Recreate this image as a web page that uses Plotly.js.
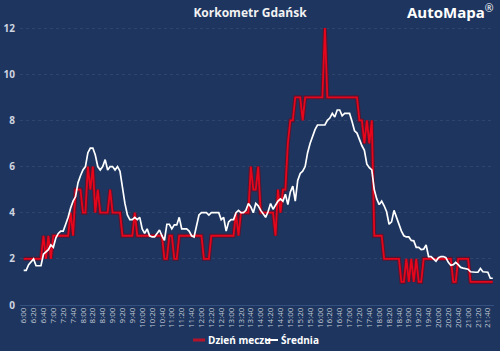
<!DOCTYPE html>
<html>
<head>
<meta charset="utf-8">
<script src="https://cdn.plot.ly/plotly-3.0.1.min.js"></script>
<style>html,body{margin:0;padding:0;background:#1e365f;}#chart{width:500px;height:351px;}</style>
</head>
<body>
<div id="chart"></div>
<script>
const times = ["6:00","6:05","6:10","6:15","6:20","6:25","6:30","6:35","6:40","6:45","6:50","6:55",
"7:00","7:05","7:10","7:15","7:20","7:25","7:30","7:35","7:40","7:45","7:50","7:55",
"8:00","8:05","8:10","8:15","8:20","8:25","8:30","8:35","8:40","8:45","8:50","8:55",
"9:00","9:05","9:10","9:15","9:20","9:25","9:30","9:35","9:40","9:45","9:50","9:55",
"10:00","10:05","10:10","10:15","10:20","10:25","10:30","10:35","10:40","10:45","10:50","10:55",
"11:00","11:05","11:10","11:15","11:20","11:25","11:30","11:35","11:40","11:45","11:50","11:55",
"12:00","12:05","12:10","12:15","12:20","12:25","12:30","12:35","12:40","12:45","12:50","12:55",
"13:00","13:05","13:10","13:15","13:20","13:25","13:30","13:35","13:40","13:45","13:50","13:55",
"14:00","14:05","14:10","14:15","14:20","14:25","14:30","14:35","14:40","14:45","14:50","14:55",
"15:00","15:05","15:10","15:15","15:20","15:25","15:30","15:35","15:40","15:45","15:50","15:55",
"16:00","16:05","16:10","16:15","16:20","16:25","16:30","16:35","16:40","16:45","16:50","16:55",
"17:00","17:05","17:10","17:15","17:20","17:25","17:30","17:35","17:40","17:45","17:50","17:55",
"18:00","18:05","18:10","18:15","18:20","18:25","18:30","18:35","18:40","18:45","18:50","18:55",
"19:00","19:05","19:10","19:15","19:20","19:25","19:30","19:35","19:40","19:45","19:50","19:55",
"20:00","20:05","20:10","20:15","20:20","20:25","20:30","20:35","20:40","20:45","20:50","20:55",
"21:00","21:05","21:10","21:15","21:20","21:25","21:30","21:35","21:40","21:45","21:50"];

const tickLabels = ["6:00","6:20","6:40","7:00","7:20","7:40","8:00","8:20","8:40","9:00","9:20","9:40",
"10:00","10:20","10:40","11:00","11:20","11:40","12:00","12:20","12:40","13:00","13:20","13:40",
"14:00","14:20","14:40","15:00","15:20","15:40","16:00","16:20","16:40","17:00","17:20","17:40",
"18:00","18:20","18:40","19:00","19:20","19:40","20:00","20:20","20:40","21:00","21:20","21:40"];

const dzienMeczu = [2,2,2,2,2,2,2,2,
3,2,3,2,
3,3,3,3,3,3,3,
4,3,5,5,5,4,4,
6,5,6,4,5,
4,4,4,4,
5,
4,4,4,4,
3,3,3,3,3,
4,
3,3,3,3,3,3,3,3,3,3,3,
2,2,
3,3,
2,2,
3,3,3,3,3,3,3,3,3,3,
2,2,2,
3,3,3,3,3,3,3,3,3,3,
4,3,4,4,4,4,
6,5,5,6,
4,4,4,4,4,4,
3,5,4,5,5,7,8,8,
9,9,9,8,
9,9,9,9,9,9,9,9,
12,
9,9,9,9,9,9,9,9,9,9,9,9,9,
8,8,7,8,7,8,
3,3,3,3,
2,2,2,2,2,2,2,
1,1,2,1,2,1,2,1,1,
2,2,2,2,2,2,2,2,2,2,2,2,
1,1,
2,2,2,2,2,
1,1,1,1,1,1,1,1,1,1];

const srednia = [1.5,1.5,1.75,1.9,2.0,1.7,1.7,1.7,2.2,2.3,2.4,2.6,2.5,2.9,3.1,3.2,3.2,3.5,3.8,4.2,
4.5,4.7,5.3,5.6,5.85,6.0,6.6,6.8,6.8,6.5,6.0,5.85,6.0,6.3,5.85,6.0,6.0,5.85,6.0,5.8,
5.0,4.4,3.9,3.7,3.7,3.8,3.7,3.8,3.3,3.1,3.3,3.0,2.95,2.95,3.1,3.25,3.0,2.8,3.5,3.5,
3.3,3.47,3.47,3.8,3.3,3.3,3.3,3.2,3.0,2.95,3.45,3.9,4.0,4.0,4.0,3.9,4.0,4.0,4.0,4.0,
3.7,3.8,3.2,3.6,3.7,3.7,4.0,4.1,4.0,4.0,4.1,4.4,4.25,4.0,4.4,4.3,4.1,3.95,3.8,4.05,
4.4,4.15,4.35,4.5,4.6,4.5,4.8,4.35,4.9,5.15,4.5,5.4,5.7,5.8,6.0,6.6,7.0,7.3,7.6,7.8,
7.8,7.8,7.8,8.0,8.1,8.3,8.15,8.45,8.45,8.2,8.3,8.3,8.3,7.95,7.55,7.45,7.15,6.9,6.7,6.1,
5.95,5.85,5.0,4.6,4.35,4.5,4.3,4.04,3.5,3.6,4.1,3.8,3.5,3.2,3.0,2.95,2.95,2.8,2.78,2.5,
2.5,2.4,2.42,2.6,2.1,2.1,2.0,1.9,2.05,2.1,2.1,2.05,1.85,1.72,1.75,1.85,1.75,1.63,1.6,1.58,
1.55,1.44,1.42,1.42,1.42,1.58,1.44,1.42,1.42,1.16,1.16];

const seriesNames = ["Dzień meczu", "Średnia"];
const yTicks = [0,2,4,6,8,10,12];

const BG = "#1e365f";
const FONT = "'Open Sans', 'DejaVu Sans', sans-serif";

const traces = [
  {x: times, y: dzienMeczu, type: "scatter", mode: "lines", name: seriesNames[0],
   line: {color: "rgba(120,0,20,0.6)", width: 4}, showlegend: false, hoverinfo: "skip"},
  {x: times, y: dzienMeczu, type: "scatter", mode: "lines", name: seriesNames[0],
   line: {color: "#e6061c", width: 1.8}, showlegend: false},
  {x: times, y: srednia, type: "scatter", mode: "lines", name: seriesNames[1],
   line: {color: "#ffffff", width: 1.7}, showlegend: false}
];

const plotL = 20, plotW = 474, plotB = 305, plotH = 279;
const px = v => (v - plotL) / plotW;
const py = v => (plotB - v) / plotH;

const layout = {
  width: 500, height: 351,
  paper_bgcolor: BG, plot_bgcolor: BG,
  margin: {l: 20, r: 6, t: 26, b: 46, pad: 0},
  font: {family: FONT, color: "#d5d9e4"},
  title: {text: "<b>Korkometr Gdańsk</b>", font: {family: FONT, size: 12, color: "#f2f2f2"},
          x: 0.5, xanchor: "center", y: 1 - 12.5/351, yanchor: "middle", yref: "container"},
  showlegend: false,
  xaxis: {type: "category", range: [-1.5, 190.5], tickmode: "array", tickvals: tickLabels, ticktext: tickLabels,
          tickangle: -90, tickfont: {family: FONT, size: 8, color: "#c3c9d6"}, showgrid: false,
          zeroline: false, showline: false, ticks: "", fixedrange: true},
  yaxis: {range: [0, 12.09], tickmode: "array", tickvals: yTicks, ticktext: yTicks.map(String),
          tickfont: {family: FONT, size: 10, color: "#cfd4e0", weight: "bold"},
          showgrid: true, gridcolor: "rgba(255,255,255,0.08)", griddash: "dot", gridwidth: 1,
          zeroline: true, zerolinecolor: "#34507f", zerolinewidth: 1, showline: false, ticks: "",
          ticklabelstandoff: 4},
  shapes: [
    {type: "line", xref: "paper", yref: "paper", x0: px(193), x1: px(205), y0: py(340), y1: py(340),
     line: {color: "#b3142c", width: 3}},
    {type: "line", xref: "paper", yref: "paper", x0: px(266), x1: px(278), y0: py(340), y1: py(340),
     line: {color: "#ffffff", width: 2}}
  ],
  annotations: [
    {text: "<b>" + seriesNames[0] + "</b>", xref: "paper", yref: "paper", x: px(206), y: py(340),
     xanchor: "left", yanchor: "middle", showarrow: false, font: {family: FONT, size: 10, color: "#ffffff"}},
    {text: "<b>" + seriesNames[1] + "</b>", xref: "paper", yref: "paper", x: px(279), y: py(340),
     xanchor: "left", yanchor: "middle", showarrow: false, font: {family: FONT, size: 10, color: "#ffffff"}},
    {text: "<b>AutoMapa</b><sup>®</sup>", xref: "paper", yref: "paper", x: px(496), y: py(11),
     xanchor: "right", yanchor: "middle", showarrow: false, font: {family: FONT, size: 15, color: "#ffffff"}}
  ]
};

Plotly.newPlot("chart", traces, layout, {displayModeBar: false, staticPlot: true});
</script>
</body>
</html>
